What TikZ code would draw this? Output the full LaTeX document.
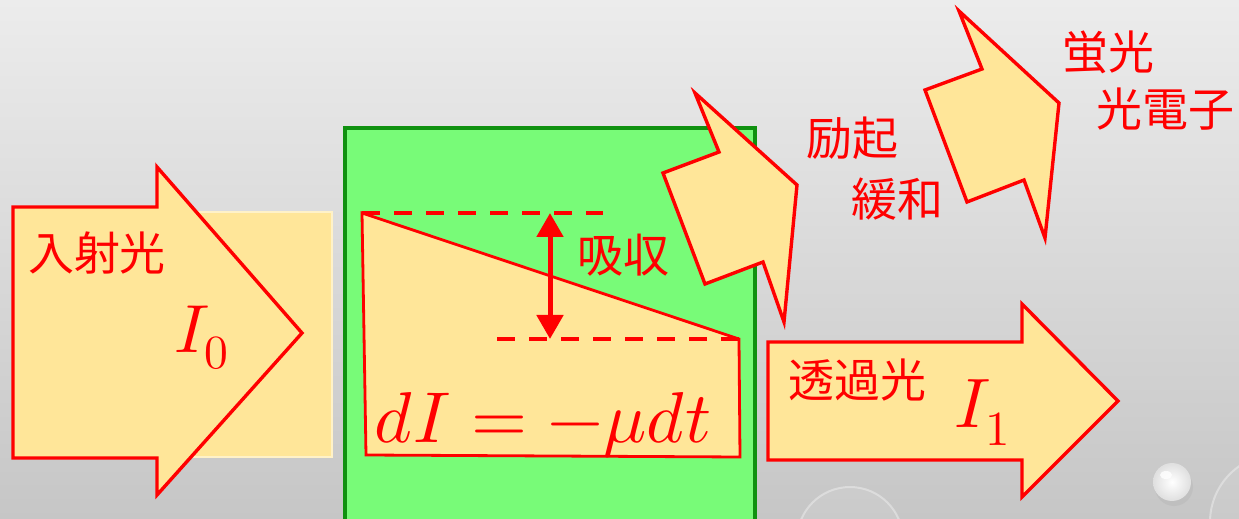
\documentclass[tikz,border=0pt]{standalone}
\usepackage{unicode-math}
\setmathfont{Latin Modern Math}
\newfontfamily\jpfont{Noto Sans CJK JP}
\usetikzlibrary{arrows.meta}
\definecolor{ared}{RGB}{255,0,0}
\definecolor{ayel}{RGB}{255,230,153}
\definecolor{ayeledge}{RGB}{255,242,200}
\definecolor{agrn}{RGB}{120,251,120}
\definecolor{agrnd}{RGB}{16,145,16}
\definecolor{bgtop}{RGB}{236,236,236}
\definecolor{bgbot}{RGB}{198,198,198}
\begin{document}
\begin{tikzpicture}[x=0.5pt,y=-0.5pt,
  shapebox/.style={fill=ayel, draw=ared, line width=1.7pt, line join=miter},
  jlabel/.style={text=ared, font=\jpfont\fontsize{23}{28}\selectfont, inner sep=0pt},
  mlabel/.style={text=ared, inner sep=0pt, anchor=base west},
  dashline/.style={draw=ared, line width=2pt, dash pattern=on 9pt off 7pt},
  droplet/.style={draw=white, opacity=0.35, line width=1pt}]
\useasboundingbox (0,0) rectangle (1239,519);
% background
\shade[top color=bgtop, bottom color=bgbot] (0,0) rectangle (1239,519);
% droplets
\draw[droplet, fill=white, fill opacity=0.08] (850,540) circle (53);
\draw[droplet, fill=white, fill opacity=0.08] (1278,522) circle (68);
\fill[gray!60, opacity=0.35] (1174,487) circle (19);
\shade[inner color=white, outer color=gray!25] (1172,482) circle (19);
\fill[white, opacity=0.8] (1166,475) ellipse (6 and 4);
% incident light
\draw[fill=ayel, draw=ayeledge, line width=0.8pt] (20,212) rectangle (332,457);
\draw[shapebox] (13,207) -- (157,207) -- (157,167) -- (302,333) -- (157,495) -- (157,458) -- (13,458) -- cycle;
\node[jlabel] (inc) at (97,253) {入射光};
\node[mlabel, font=\fontsize{34}{40}\selectfont] (i0) at (174,352) {$I_0$};
% sample
\draw[fill=agrn, draw=agrnd, line width=1.6pt] (345,128) rectangle (755,530);
\draw[shapebox, line width=1.4pt] (362,213) -- (739,339) -- (740,457) -- (366,455) -- cycle;
\coordinate (dtl) at (362,213);
\coordinate (dtr) at (603,213);
\coordinate (dbl) at (497,339);
\coordinate (dbr) at (739,339);
\draw[dashline] (dtl) -- (dtr);
\draw[dashline] (dbl) -- (dbr);
\coordinate (aa) at (550,213);
\coordinate (ab) at (550,339);
\draw[draw=ared, line width=2.5pt, {Triangle[width=13pt,length=12pt]}-{Triangle[width=13pt,length=12pt]}] (aa) -- (ab);
\node[jlabel] (abs) at (623,255) {吸収};
\node[mlabel, font=\fontsize{36}{42}\selectfont] (eq) at (374,443) {$dI = -\mu dt$};
% lightning arrows
\draw[shapebox] (695,93) -- (797,185) -- (784,322) -- (763,262) -- (705,284) -- (663,173) -- (719,152) -- cycle;
\draw[shapebox] (959,11) -- (1059,103) -- (1045,238) -- (1024,180) -- (967,202) -- (925,90) -- (982,69) -- cycle;
\node[jlabel] (exc) at (852,138) {励起};
\node[jlabel] (rel) at (897,199) {緩和};
\node[jlabel] (flu) at (1108,52) {蛍光};
\node[jlabel] (pe) at (1165,109) {光電子};
% transmitted light
\draw[shapebox] (768,342) -- (1022,342) -- (1022,304) -- (1118,401) -- (1022,497) -- (1022,460) -- (768,460) -- cycle;
\node[jlabel] (tr) at (857,380) {透過光};
\node[mlabel, font=\fontsize{35}{40}\selectfont] (i1) at (954,428) {$I_1$};
\end{tikzpicture}
\end{document}
